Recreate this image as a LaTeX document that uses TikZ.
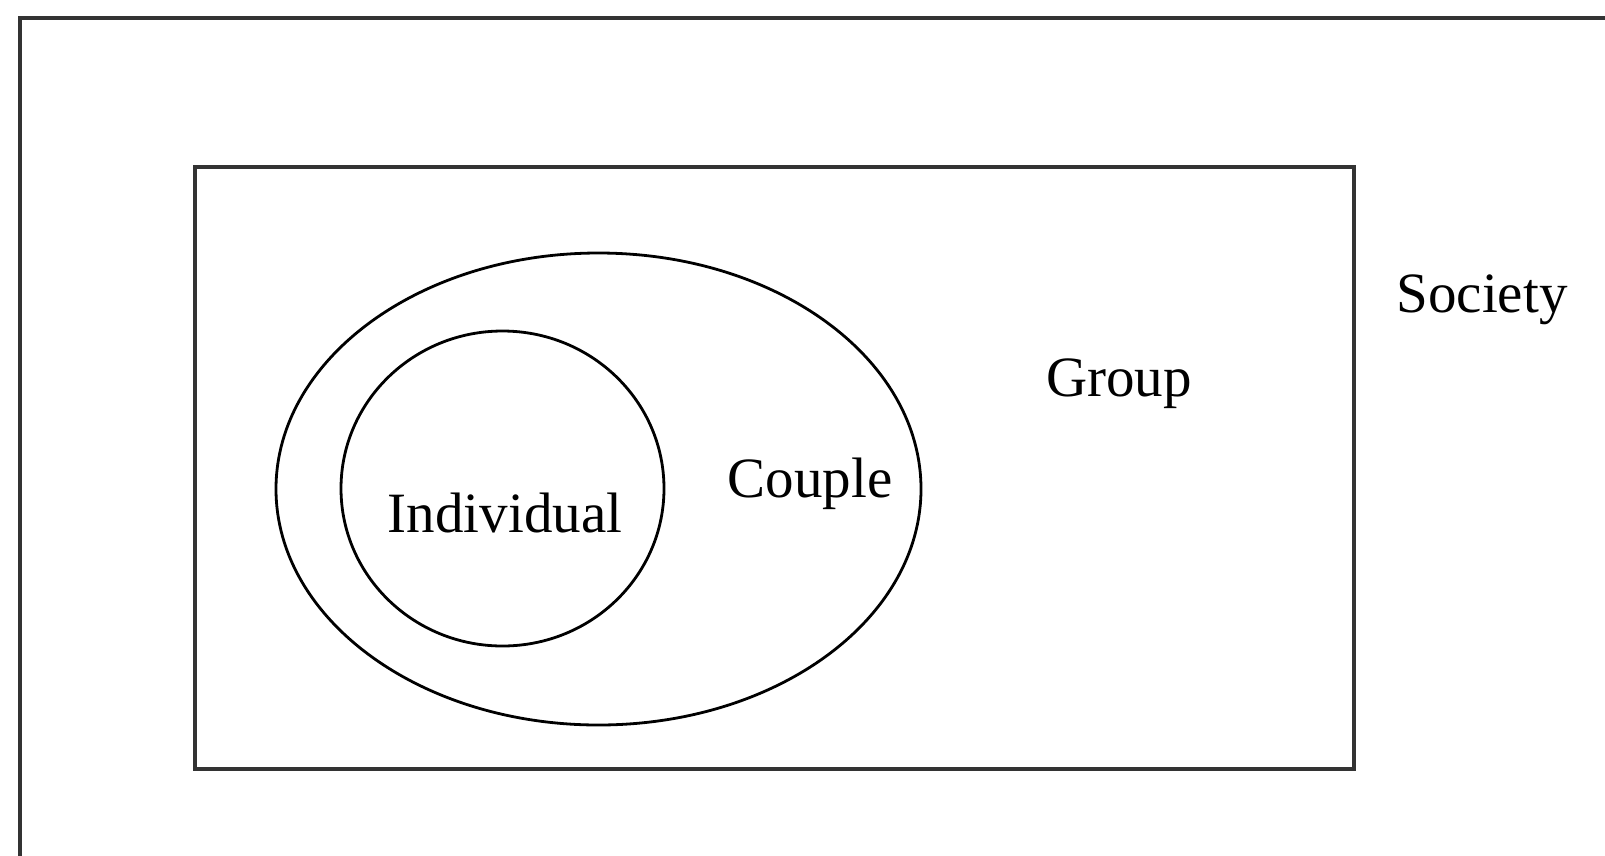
\documentclass[tikz,border=0pt]{standalone}
\usepackage{fontspec}
\setmainfont{Liberation Serif}
\begin{document}
\begin{tikzpicture}[x=1pt,y=-1pt,
  frame/.style={draw=black!80,line width=3.5pt},
  ring/.style={draw=black,line width=2.8pt},
  lbl/.style={font=\fontsize{57}{68}\selectfont,inner sep=0pt}]
\clip (0,0) rectangle (1605,855);
\fill[white] (0,0) rectangle (1605,855);
\draw[frame] (20,18) rectangle (1660,900);
\draw[frame] (195,167) rectangle (1354,769);
\draw[ring] (598.5,489) ellipse [x radius=322.5, y radius=236];
\draw[ring] (502.5,488.5) ellipse [x radius=161.5, y radius=157.5];
\node[lbl] (ind) at (505,513) {Individual};
\node[lbl] (cou) at (810,484) {Couple};
\node[lbl] (grp) at (1119,384) {Group};
\node[lbl] (soc) at (1482,300) {Society};
\end{tikzpicture}
\end{document}
